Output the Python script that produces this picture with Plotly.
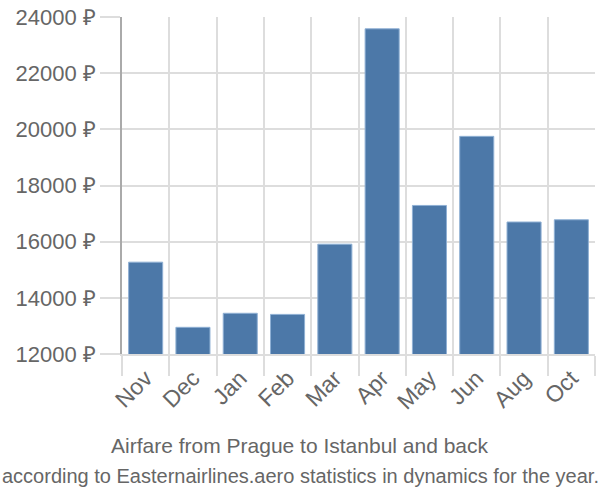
import plotly.graph_objects as go

months = ["Nov", "Dec", "Jan", "Feb", "Mar", "Apr", "May", "Jun", "Aug", "Oct"]
prices = [15270, 12950, 13450, 13410, 15910, 23580, 17290, 19750, 16700, 16780]
y_ticks = [12000, 14000, 16000, 18000, 20000, 22000, 24000]
y_labels = [f"{v} ₽" for v in y_ticks]

font = "Liberation Sans, Arial, sans-serif"
fig = go.Figure(go.Bar(
    x=months, y=prices, width=0.72,
    marker=dict(color="#4c78a8", line=dict(color="#8fb0d4", width=1)),
))
fig.update_layout(
    width=600, height=500,
    margin=dict(l=122, r=5, t=14, b=146),
    paper_bgcolor="white", plot_bgcolor="white",
    showlegend=False,
    font=dict(family=font, color="#666666", size=20),
)
fig.update_xaxes(
    type="category", tickson="boundaries", ticks="outside", ticklen=20,
    tickcolor="#dddddd", tickwidth=1.5,
    showgrid=True, gridcolor="#dddddd", gridwidth=1.5,
    tickangle=-45, tickfont=dict(size=23, color="#666666"),
    showline=True, linecolor="#dddddd", linewidth=1.5,
)
fig.update_yaxes(
    range=[12000, 24000], tickvals=y_ticks, ticktext=y_labels,
    ticks="outside", ticklen=20, tickcolor="#dddddd", tickwidth=1.5,
    showgrid=True, gridcolor="#dddddd", gridwidth=1.5,
    showline=True, linecolor="#aaaaaa", linewidth=1.5,
    tickfont=dict(size=22, color="#666666"), zeroline=False,
)
fig.add_annotation(text="Airfare from Prague to Istanbul and back", xref="paper", yref="paper",
                   x=(300 - 122) / 473, y=(354 - 446) / 340, showarrow=False,
                   xanchor="center", yanchor="middle", font=dict(size=21, color="#666666"))
fig.add_annotation(text="according to Easternairlines.aero statistics in dynamics for the year.",
                   xref="paper", yref="paper",
                   x=(300 - 122) / 473, y=(354 - 477) / 340, showarrow=False,
                   xanchor="center", yanchor="middle", font=dict(size=20, color="#666666"))
fig.write_html("out.html")
